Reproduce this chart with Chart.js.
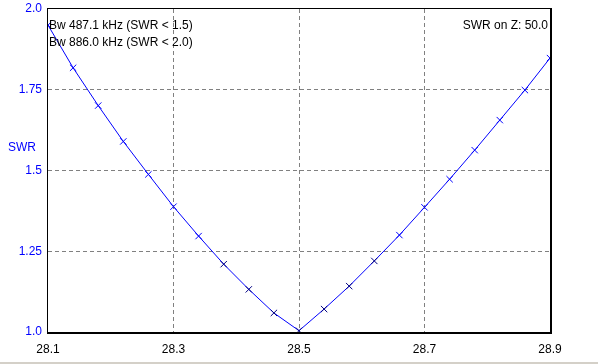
<!DOCTYPE html>
<html>
<head>
<meta charset="utf-8">
<script src="https://cdn.jsdelivr.net/npm/chart.js@4"></script>
<style>
  html, body { margin: 0; padding: 0; background: #fff; }
  #wrap { width: 598px; height: 364px; position: relative; }
</style>
</head>
<body>
<div id="wrap"><canvas id="swrChart"></canvas></div>
<script>
// frequency in MHz, SWR
const freqs = [28.10, 28.14, 28.18, 28.22, 28.26, 28.30, 28.34, 28.38, 28.42, 28.46, 28.50,
               28.54, 28.58, 28.62, 28.66, 28.70, 28.74, 28.78, 28.82, 28.86, 28.90];
const swr = [1.950, 1.818, 1.701, 1.590, 1.488, 1.388, 1.297, 1.210, 1.132, 1.059, 1.004,
             1.071, 1.142, 1.220, 1.300, 1.386, 1.473, 1.563, 1.656, 1.749, 1.848];
const xTicks = [28.1, 28.3, 28.5, 28.7, 28.9];
const yTicks = [1.0, 1.25, 1.5, 1.75, 2.0];
const infoLines = ['Bw 487.1 kHz (SWR < 1.5)', 'Bw 886.0 kHz (SWR < 2.0)'];
const zLabel = 'SWR on Z: 50.0';
const yName = 'SWR';

const font = '"Liberation Sans", Arial, sans-serif';

const points = freqs.map((f, i) => ({ x: f, y: swr[i] }));
const markerColors = swr.map(v => v < 1.25 ? '#000080' : '#0000ff');

const framePlugin = {
    id: 'frame',
    afterDraw(chart) {
        const { ctx, chartArea: a } = chart;
        ctx.save();
        ctx.strokeStyle = '#000';
        ctx.lineWidth = 1;
        ctx.strokeRect(a.left - 0.5, a.top - 0.5, a.right - a.left + 1, a.bottom - a.top + 1);
        ctx.beginPath();
        ctx.moveTo(a.right + 1.5, a.top - 1);
        ctx.lineTo(a.right + 1.5, a.bottom + 2);
        ctx.moveTo(a.left - 1, a.bottom + 1.5);
        ctx.lineTo(a.right + 2, a.bottom + 1.5);
        ctx.stroke();

        ctx.font = '12px ' + font;
        ctx.textBaseline = 'alphabetic';
        ctx.fillStyle = '#000';
        ctx.textAlign = 'left';
        infoLines.forEach((t, i) => ctx.fillText(t, a.left + 1, 29 + i * 16.5));
        ctx.textAlign = 'right';
        ctx.fillText(zLabel, a.right - 2, 29);
        ctx.fillStyle = '#0000ff';
        ctx.textAlign = 'left';
        ctx.fillText(yName, 8, 151);

        ctx.fillStyle = '#d4d0c8';
        ctx.fillRect(0, 362, 598, 2);
        ctx.restore();
    }
};

new Chart(document.getElementById('swrChart'), {
    type: 'line',
    data: {
        datasets: [{
            data: points,
            borderColor: '#0000ff',
            borderWidth: 1,
            pointStyle: 'crossRot',
            pointRadius: 4.5,
            pointBorderWidth: 1,
            pointBorderColor: markerColors,
            pointBackgroundColor: markerColors,
            tension: 0
        }]
    },
    options: {
        responsive: true,
        maintainAspectRatio: false,
        animation: false,
        events: [],
        layout: { padding: { top: 9, right: 48, left: 0, bottom: 0 } },
        plugins: { legend: { display: false }, tooltip: { enabled: false } },
        scales: {
            x: {
                type: 'linear',
                min: 28.1,
                max: 28.9,
                afterBuildTicks: s => { s.ticks = xTicks.map(v => ({ value: v })); },
                afterFit: s => { s.height = 32; s.paddingLeft = 0; s.paddingRight = 0; },
                ticks: {
                    color: '#000',
                    font: { family: font, size: 12 },
                    padding: 10,
                    maxRotation: 0,
                    callback: v => v.toFixed(1)
                },
                grid: {
                    drawTicks: false,
                    color: ctx => (ctx.tick && (ctx.tick.value === 28.1 || ctx.tick.value === 28.9)) ? 'rgba(0,0,0,0)' : '#808080',
                    lineWidth: 1
                },
                border: { display: false, dash: [4, 3] }
            },
            y: {
                min: 1.0,
                max: 2.0,
                afterBuildTicks: s => { s.ticks = yTicks.map(v => ({ value: v })); },
                afterFit: s => { s.width = 48; s.paddingTop = 0; s.paddingBottom = 0; },
                ticks: {
                    color: '#0000ff',
                    font: { family: font, size: 12 },
                    padding: 6,
                    callback: v => (v === 1 || v === 1.5 || v === 2) ? v.toFixed(1) : v.toFixed(2)
                },
                grid: {
                    drawTicks: false,
                    color: ctx => (ctx.tick && (ctx.tick.value === 1 || ctx.tick.value === 2)) ? 'rgba(0,0,0,0)' : '#808080',
                    lineWidth: 1
                },
                border: { display: false, dash: [4, 3] }
            }
        }
    },
    plugins: [framePlugin]
});
</script>
</body>
</html>
